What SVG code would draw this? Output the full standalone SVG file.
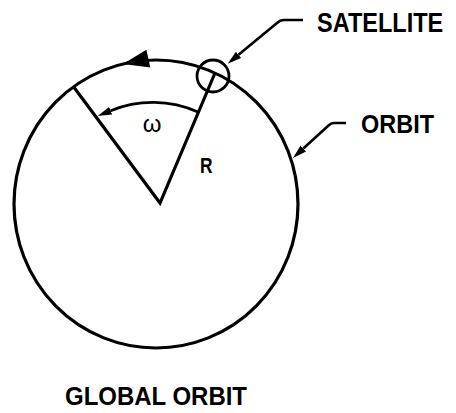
<svg xmlns="http://www.w3.org/2000/svg" width="456" height="413" viewBox="0 0 456 413">
<style>
.ln{fill:none;stroke:#000;stroke-width:3.2;stroke-linejoin:miter}
.ld{fill:none;stroke:#000;stroke-width:2.6;stroke-linecap:butt;stroke-linejoin:round}
.lbl{font-family:"Liberation Sans",Arial,sans-serif;font-weight:bold;fill:#000}
</style>
<defs>
<marker id="arr" markerUnits="userSpaceOnUse" markerWidth="16" markerHeight="10" viewBox="0 -5 16 10" refX="0" refY="0" orient="auto">
<path d="M0,-4 L14,0 L0,4 Z" fill="#000"/>
</marker>
</defs>
<rect width="456" height="413" fill="#fff"/>
<g id="orbit">
<ellipse class="ln" cx="156" cy="204" rx="142" ry="144"/>
<polygon points="123,64 150.3,67.4 146.4,49.8" fill="#000"/>
</g>
<g id="geometry">
<polyline class="ln" points="73,86 160,203 215,73"/>
<path class="ld" d="M198,112 A111,111 0 0 0 110.6,110.7" marker-end="url(#arr)"/>
</g>
<g id="satellite">
<circle cx="213" cy="76" r="16" fill="none" stroke="#000" stroke-width="2.8"/>
</g>
<g id="connectors">
<path class="ld" d="M303,20 L284,20 Q280,20 277,23 L238.5,54.8" marker-end="url(#arr)"/>
<path class="ld" d="M346,123 L334,123 Q331,123 328.5,125.5 L303.3,148.5" marker-end="url(#arr)"/>
</g>
<g id="labels">
<text class="lbl" transform="translate(317,32) scale(0.84,1)" x="0" y="0" font-size="28">SATELLITE</text>
<text class="lbl" x="361" y="133" font-size="26" textLength="73" lengthAdjust="spacingAndGlyphs">ORBIT</text>
<text class="lbl" x="65" y="405" font-size="25" textLength="182" lengthAdjust="spacingAndGlyphs">GLOBAL ORBIT</text>
<text x="152" y="132" font-family="Liberation Sans,Arial,sans-serif" font-size="24" text-anchor="middle">ω</text>
<text class="lbl" x="200" y="173" font-size="22" textLength="12.5" lengthAdjust="spacingAndGlyphs">R</text>
</g>
</svg>
